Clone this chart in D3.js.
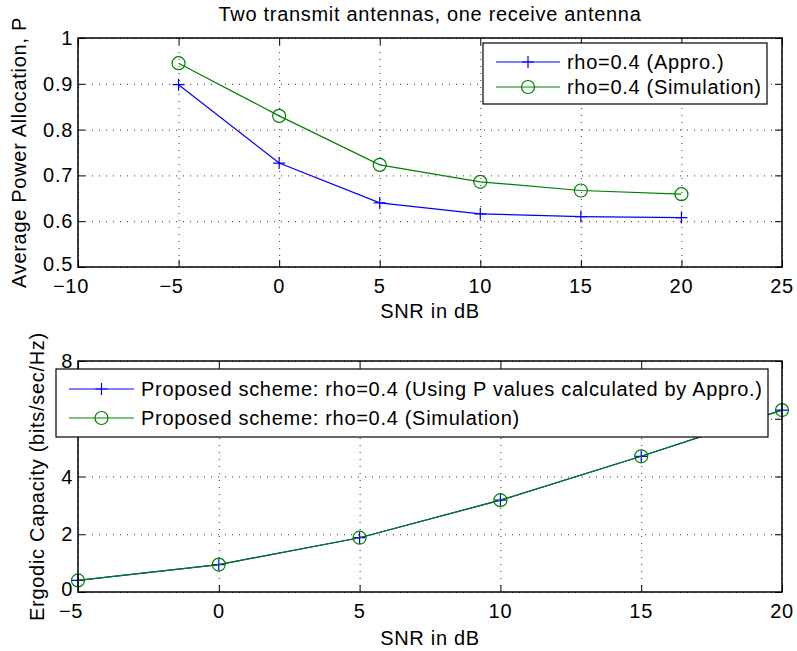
<!DOCTYPE html>
<html>
<head>
<meta charset="utf-8">
<script src="https://cdn.jsdelivr.net/npm/d3@7"></script>
<style>
	body { margin: 0; background: #fff; }
	svg { font-family: "Liberation Sans", Arial, sans-serif; }
	svg text { letter-spacing: 0.7px; }
	.grid line { stroke: #333; stroke-width: 1; stroke-dasharray: 1,6; }
	.grid path { display: none; }
	.tk line { stroke: #000; }
	.tk path { display: none; }
</style>
</head>
<body>
<svg id="fig" width="797" height="651"></svg>
<script>
//top panel data
var snr = [-5, 0, 5, 10, 15, 20];
var p_appro = [0.898, 0.727, 0.640, 0.616, 0.610, 0.608];
var p_sim = [0.945, 0.830, 0.723, 0.686, 0.667, 0.659];
var top_xticks = [-10, -5, 0, 5, 10, 15, 20, 25];
var top_yticks = [0.5, 0.6, 0.7, 0.8, 0.9, 1];

//bottom panel data
var cap_appro = [0.40, 0.95, 1.88, 3.18, 4.70, 6.30];
var cap_sim = [0.40, 0.95, 1.88, 3.18, 4.70, 6.30];
var bot_xticks = [-5, 0, 5, 10, 15, 20];
var bot_yticks = [0, 2, 4, 6, 8];

var title = "Two transmit antennas, one receive antenna";
var top_legend = ["rho=0.4 (Appro.)", "rho=0.4 (Simulation)"];
var bot_legend = ["Proposed scheme: rho=0.4 (Using P values calculated by Appro.)", "Proposed scheme: rho=0.4 (Simulation)"];

var BLUE = "#0000ff", GREEN = "#008000";
var FS = 20;
var svg = d3.select("#fig");

function marker(g, type, cx, cy, col) {
	if (type == "plus") {
		g.append("path")
			.attr("d", "M" + (cx - 6) + "," + cy + "H" + (cx + 6) + "M" + cx + "," + (cy - 6) + "V" + (cy + 6))
			.attr("stroke", col).attr("stroke-width", 1.2).attr("fill", "none");
	} else {
		g.append("circle").attr("cx", cx).attr("cy", cy).attr("r", 6.5)
			.attr("stroke", col).attr("stroke-width", 1.2).attr("fill", "none");
	}
}

function panel(opt) {
	var g = svg.append("g").attr("transform", "translate(" + opt.left + "," + opt.top + ")");
	var w = opt.w, h = opt.h;
	var x = d3.scaleLinear().domain(opt.xdom).range([0, w]);
	var y = d3.scaleLinear().domain(opt.ydom).range([h, 0]);

	// grid
	g.append("g").attr("class", "grid")
		.call(d3.axisBottom(x).tickValues(opt.xticks).tickSize(h).tickFormat(""));
	g.append("g").attr("class", "grid")
		.call(d3.axisLeft(y).tickValues(opt.yticks).tickSize(-w).tickFormat(""));

	// inner ticks on all four sides
	g.append("g").attr("class", "tk").attr("transform", "translate(0," + h + ")")
		.call(d3.axisBottom(x).tickValues(opt.xticks).tickSizeInner(-7).tickSizeOuter(0).tickFormat(""));
	g.append("g").attr("class", "tk")
		.call(d3.axisTop(x).tickValues(opt.xticks).tickSizeInner(-7).tickSizeOuter(0).tickFormat(""));
	g.append("g").attr("class", "tk")
		.call(d3.axisLeft(y).tickValues(opt.yticks).tickSizeInner(-7).tickSizeOuter(0).tickFormat(""));
	g.append("g").attr("class", "tk").attr("transform", "translate(" + w + ",0)")
		.call(d3.axisRight(y).tickValues(opt.yticks).tickSizeInner(-7).tickSizeOuter(0).tickFormat(""));

	// lines + markers
	var line = d3.line()
		.x(function(d, i) { return x(snr[i]); })
		.y(function(d) { return y(d); });
	opt.series.forEach(function(s) {
		g.append("path").datum(s.vals)
			.attr("d", line).attr("fill", "none")
			.attr("stroke", s.col).attr("stroke-width", 1.2);
		s.vals.forEach(function(v, i) { marker(g, s.type, x(snr[i]), y(v), s.col); });
	});

	// box
	g.append("rect").attr("width", w).attr("height", h)
		.attr("fill", "none").attr("stroke", "#000").attr("stroke-width", 1.5);

	// tick labels (negative ones sit a bit left, like matlab)
	var fmt = opt.yfmt;
	g.selectAll(".xl").data(opt.xticks).enter().append("text")
		.attr("x", function(d) { return x(d) - (d < 0 ? 7 : 0); })
		.attr("y", h + 26)
		.attr("text-anchor", "middle")
		.attr("font-size", FS)
		.text(function(d) { return d < 0 ? "\u2212" + Math.abs(d) : d; });
	g.selectAll(".yl").data(opt.yticks).enter().append("text")
		.attr("x", -5)
		.attr("y", function(d) { return y(d) + 7 - (d == opt.ydom[0] ? 3 : 0); })
		.attr("text-anchor", "end")
		.attr("font-size", FS)
		.text(function(d) { return fmt(d); });

	// axis labels
	g.append("text")
		.attr("x", w / 2).attr("y", h + opt.xlabDy)
		.attr("text-anchor", "middle").attr("font-size", FS)
		.text("SNR in dB");
	g.append("text")
		.attr("transform", "translate(" + opt.ylabX + "," + h / 2 + ") rotate(-90)")
		.attr("text-anchor", "middle").attr("font-size", FS)
		.text(opt.ylab);

	// legend
	var L = opt.legend;
	var lg = svg.append("g").attr("transform", "translate(" + L.x + "," + L.y + ")");
	lg.append("rect").attr("width", L.w).attr("height", L.h)
		.attr("fill", "#fff").attr("stroke", "#000").attr("stroke-width", 1.2);
	opt.series.forEach(function(s, i) {
		var cy = L.row0 + i * L.rowStep;
		lg.append("line").attr("x1", L.lx0).attr("x2", L.lx1).attr("y1", cy).attr("y2", cy)
			.attr("stroke", s.col).attr("stroke-width", 1.2);
		marker(lg, s.type, (L.lx0 + L.lx1) / 2, cy, s.col);
		lg.append("text").attr("x", L.tx).attr("y", cy + 7)
			.attr("font-size", FS).text(L.labels[i]);
	});
}

svg.append("text")
	.attr("x", 430).attr("y", 21)
	.attr("text-anchor", "middle").attr("font-size", FS)
	.text(title);

panel({
	left: 78, top: 38, w: 704, h: 229,
	xdom: [-10, 25], ydom: [0.5, 1],
	xticks: top_xticks, yticks: top_yticks,
	yfmt: function(d) { return d == 1 ? "1" : d3.format(".1f")(d); },
	xlabDy: 51, ylabX: -52,
	ylab: "Average Power Allocation, P",
	series: [
		{vals: p_appro, col: BLUE, type: "plus"},
		{vals: p_sim, col: GREEN, type: "circle"}
	],
	legend: {x: 483, y: 43, w: 284, h: 61, row0: 19, rowStep: 25, lx0: 13, lx1: 77, tx: 84, labels: top_legend}
});

panel({
	left: 78, top: 361, w: 704, h: 231,
	xdom: [-5, 20], ydom: [0, 8],
	xticks: bot_xticks, yticks: bot_yticks,
	yfmt: function(d) { return d; },
	xlabDy: 53, ylabX: -34,
	ylab: "Ergodic Capacity (bits/sec/Hz)",
	series: [
		{vals: cap_appro, col: BLUE, type: "plus"},
		{vals: cap_sim, col: GREEN, type: "circle"}
	],
	legend: {x: 56, y: 369, w: 712, h: 68, row0: 20, rowStep: 29, lx0: 13, lx1: 78, tx: 85, labels: bot_legend}
});
</script>
</body>
</html>
